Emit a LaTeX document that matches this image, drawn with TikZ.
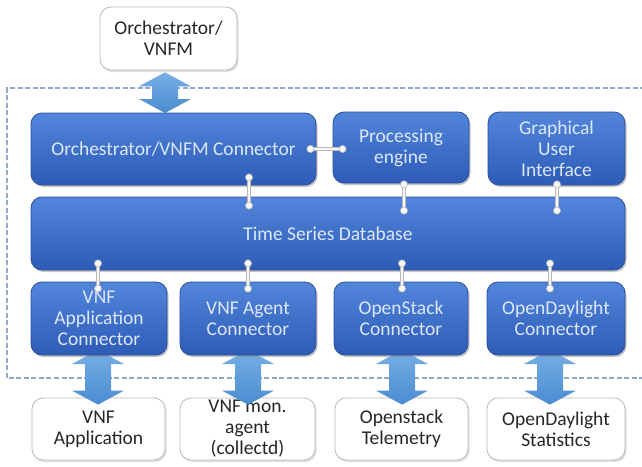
\documentclass[tikz,border=0pt]{standalone}
\usepackage{fontspec}
\setmainfont{Carlito}
\usetikzlibrary{calc,shadows}
\definecolor{bluetop}{HTML}{5286DB}
\definecolor{bluebot}{HTML}{2D5BB6}
\definecolor{blueedge}{HTML}{2A4E9C}
\definecolor{bluetext}{HTML}{DDE7F7}
\definecolor{arrtop}{HTML}{78B0E6}
\definecolor{arrbot}{HTML}{4A8BD0}
\definecolor{dashc}{HTML}{8FA9C9}
\newcommand\dblarrow[2]{%
  \path[top color=arrtop, bottom color=arrbot] let \p1=#1, \p2=#2 in
    (\x1,\y1) -- ++(26,-14) -- ++(-13,0) -- (\x1+13,\y2+14) -- ++(13,0)
    -- (\x1,\y2) -- ++(-26,14) -- ++(13,0) -- (\x1-13,\y1-14) -- ++(-13,0) -- cycle;}
\newcommand\linkdots[2]{%
  \draw[linkline] #1 -- #2;
  \filldraw[linkdot] #1 circle (3.6pt);
  \filldraw[linkdot] #2 circle (3.6pt);}
\begin{document}
\begin{tikzpicture}[x=1pt,y=1pt,
  bluebox/.style={rectangle, rounded corners=11pt, top color=bluetop, bottom color=bluebot,
    draw=blueedge, line width=0.8pt, text=bluetext, font=\fontsize{19.5}{21}\selectfont,
    align=center, inner sep=0pt,
    drop shadow={opacity=0.45, shadow xshift=1.5pt, shadow yshift=-2pt}},
  whitebox/.style={rectangle, rounded corners=11pt, fill=white, draw=gray!55, line width=0.8pt,
    text=black!85, font=\fontsize{19.5}{21}\selectfont, align=center, inner sep=0pt,
    drop shadow={opacity=0.25, shadow xshift=1.5pt, shadow yshift=-2pt}},
  linkline/.style={draw=gray!55, double=white!94!gray, double distance=1.8pt, line width=0.7pt},
  linkdot/.style={fill=white!94!gray, draw=gray!55, line width=0.6pt},
  frame/.style={draw=dashc, dash pattern=on 5pt off 2.5pt, line width=1.6pt}]
\useasboundingbox (0,0) rectangle (642,-466);
\fill[white] (0,0) rectangle (642,-466);
% dashed frame (open on the right)
\coordinate (ftr) at (645,-88);
\coordinate (ftl) at (7,-88);
\coordinate (fbl) at (7,-378);
\coordinate (fbr) at (645,-378);
\draw[frame] (ftr) -- (ftl) -- (fbl) -- (fbr);
% white boxes
\node[whitebox, minimum width=137pt, minimum height=63pt] (orchtop) at (168.5,-38.5) {Orchestrator/\\VNFM};
\node[whitebox, minimum width=133pt, minimum height=62pt] (vnfapp) at (98.5,-429) {VNF\\Application};
\node[whitebox, minimum width=135pt, minimum height=62pt] (vnfmon) at (247.5,-429) {VNF mon.\\agent\\(collectd)};
\node[whitebox, minimum width=133pt, minimum height=62pt] (ostel) at (401.5,-429) {Openstack\\Telemetry};
\node[whitebox, minimum width=138pt, minimum height=62pt] (odlst) at (556,-429) {OpenDaylight\\Statistics};
% centres of blue boxes
\path (173.5,-149) coordinate (orchc) (99,-318.5) coordinate (c1) (248,-318.5) coordinate (c2)
      (401,-318.5) coordinate (c3) (556,-318.5) coordinate (c4);
% double arrows
\dblarrow{($(orchtop.south)+(-3.5,-2)$)}{($(orchc)+(0,36)$)}
\dblarrow{($(c1)+(-1,-31.5)$)}{($(vnfapp.north)+(0,-7)$)}
\dblarrow{($(c2)+(0,-31.5)$)}{($(vnfmon.north)+(0,-7)$)}
\dblarrow{($(c3)+(1,-31.5)$)}{($(ostel.north)+(0,-7)$)}
\dblarrow{($(c4)+(-6,-31.5)$)}{($(odlst.north)+(0,-7)$)}
% blue boxes
\node[bluebox, minimum width=285pt, minimum height=72pt] (orchconn) at (orchc) {Orchestrator/VNFM Connector};
\node[bluebox, minimum width=136pt, minimum height=71pt] (proc) at (401,-147.5) {Processing\\engine};
\node[bluebox, minimum width=137pt, minimum height=73pt] (gui) at (556.5,-148.5) {Graphical\\User\\Interface};
\node[bluebox, minimum width=594pt, minimum height=73pt] (tsdb) at (328,-233.5) {Time Series Database};
\node[bluebox, minimum width=136pt, minimum height=73pt] (vnfappc) at (c1) {VNF\\Application\\Connector};
\node[bluebox, minimum width=136pt, minimum height=73pt] (vnfagc) at (c2) {VNF Agent\\Connector};
\node[bluebox, minimum width=134pt, minimum height=73pt] (osc) at (c3) {OpenStack\\Connector};
\node[bluebox, minimum width=138pt, minimum height=73pt] (odlc) at (c4) {OpenDaylight\\Connector};
% links with dots
\linkdots{($(orchconn.east)+(-6,0)$)}{($(proc.west|-orchconn.east)+(10,0)$)}
\linkdots{($(orchconn.south)+(75.5,8)$)}{($(tsdb.north-|orchconn.south)+(75.5,-9)$)}
\linkdots{($(proc.south)+(3,-1)$)}{($(tsdb.north-|proc.south)+(3,-14)$)}
\linkdots{($(gui.south)+(0.5,1)$)}{($(tsdb.north-|gui.south)+(0.5,-14)$)}
\linkdots{($(tsdb.south-|vnfappc.north)+(-1,7)$)}{($(vnfappc.north)+(-1,-7)$)}
\linkdots{($(tsdb.south-|vnfagc.north)+(0,7)$)}{($(vnfagc.north)+(0,-7)$)}
\linkdots{($(tsdb.south-|osc.north)+(1,7)$)}{($(osc.north)+(1,-7)$)}
\linkdots{($(tsdb.south-|odlc.north)+(-6,7)$)}{($(odlc.north)+(-6,-7)$)}
\end{tikzpicture}
\end{document}
